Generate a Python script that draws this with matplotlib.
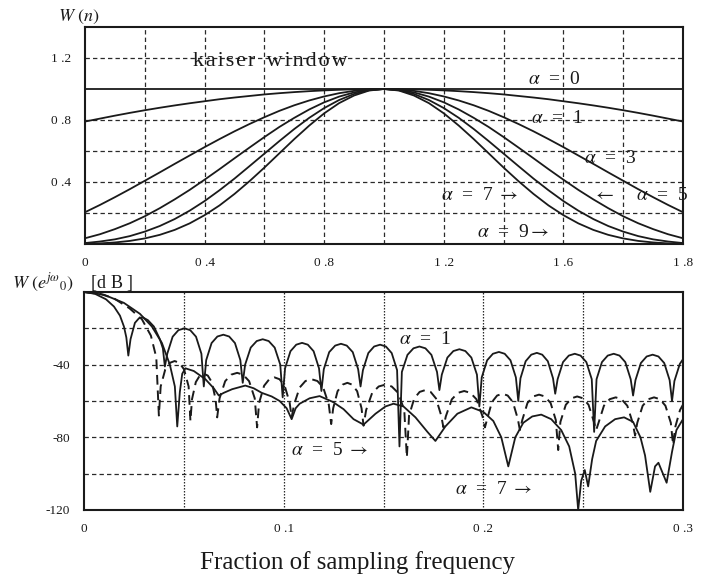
import matplotlib
matplotlib.use("Agg")
import matplotlib.pyplot as plt
import numpy as np

plt.rcParams['font.family'] = ['Liberation Serif', 'DejaVu Serif']
plt.rcParams['mathtext.fontset'] = 'stix'

# ---------------- top panel: Kaiser window W(n) ----------------
n_pos = np.linspace(0.0, 2.0, 41)
w_a0_half = [1.0] * 21
w_a1_half = [0.790, 0.809, 0.828, 0.846, 0.863, 0.879, 0.894, 0.908, 0.921, 0.934, 0.945,
             0.955, 0.965, 0.973, 0.980, 0.986, 0.991, 0.995, 0.998, 0.9995, 1.0]
w_a3_half = [0.205, 0.252, 0.302, 0.354, 0.408, 0.462, 0.517, 0.571, 0.625, 0.677, 0.727,
             0.774, 0.818, 0.859, 0.895, 0.926, 0.952, 0.973, 0.988, 0.997, 1.0]
w_a5_half = [0.037, 0.063, 0.096, 0.134, 0.179, 0.231, 0.288, 0.349, 0.415, 0.483, 0.553,
             0.622, 0.690, 0.755, 0.814, 0.868, 0.914, 0.951, 0.978, 0.994, 1.0]
w_a7_half = [0.006, 0.016, 0.030, 0.051, 0.080, 0.116, 0.161, 0.215, 0.277, 0.347, 0.422,
             0.502, 0.583, 0.664, 0.742, 0.814, 0.877, 0.929, 0.968, 0.992, 1.0]
w_a9_half = [0.001, 0.004, 0.010, 0.020, 0.036, 0.059, 0.091, 0.133, 0.186, 0.249, 0.323,
             0.405, 0.493, 0.585, 0.677, 0.764, 0.843, 0.909, 0.958, 0.990, 1.0]

top_xticks = [0.0, 0.4, 0.8, 1.2, 1.6, 2.0]
top_xlabels = ['0', '0 .4', '0 .8', '1 .2', '1 .6', '1 .8']
top_yticks = [0.4, 0.8, 1.2]
top_ylabels = ['0 .4', '0 .8', '1 .2']

# ---------------- bottom panel: spectra in dB ----------------
f_a1 = [0.0, 0.0055, 0.0110, 0.0150, 0.0180, 0.0200, 0.0212,
        0.0222, 0.0233, 0.0255, 0.0275, 0.0295, 0.0320, 0.0350, 0.0380, 0.0395,
        0.0405, 0.0417, 0.0444, 0.0473, 0.0503, 0.0532, 0.0561, 0.0588,
        0.0600, 0.0612, 0.0639, 0.0668, 0.0698, 0.0727, 0.0756, 0.0783,
        0.0795, 0.0807, 0.0835, 0.0865, 0.0895, 0.0925, 0.0955, 0.0983,
        0.0995, 0.1007, 0.1034, 0.1063, 0.1092, 0.1121, 0.1150, 0.1177,
        0.1189, 0.1201, 0.1228, 0.1258, 0.1287, 0.1316, 0.1346, 0.1373,
        0.1385, 0.1397, 0.1424, 0.1453, 0.1483, 0.1512, 0.1541, 0.1568,
        0.1580, 0.1592, 0.1620, 0.1650, 0.1680, 0.1710, 0.1740, 0.1768,
        0.1780, 0.1792, 0.1820, 0.1850, 0.1880, 0.1910, 0.1940, 0.1968,
        0.1980, 0.1992, 0.2019, 0.2048, 0.2078, 0.2107, 0.2136, 0.2163,
        0.2175, 0.2186, 0.2212, 0.2240, 0.2268, 0.2295, 0.2323, 0.2349,
        0.2360, 0.2372, 0.2399, 0.2428, 0.2458, 0.2487, 0.2516, 0.2543,
        0.2555, 0.2567, 0.2594, 0.2623, 0.2653, 0.2682, 0.2711, 0.2738,
        0.2750, 0.2762, 0.2789, 0.2818, 0.2848, 0.2877, 0.2906, 0.2933,
        0.2945, 0.2957, 0.2984, 0.3000]
db_a1 = [0.0, -1.0, -4.0, -8.0, -13.0, -19.0, -25.0,
         -35.0, -26.0, -17.0, -14.5, -14.0, -15.5, -19.0, -26.0, -31.0,
         -41.0, -34.0, -24.6, -21.0, -20.0, -21.0, -24.6, -34.0,
         -52.0, -37.5, -28.1, -24.5, -23.5, -24.5, -28.1, -37.5,
         -50.0, -40.0, -30.6, -27.0, -26.0, -27.0, -30.6, -40.0,
         -58.0, -42.0, -32.6, -29.0, -28.0, -29.0, -32.6, -42.0,
         -54.5, -42.5, -33.1, -29.5, -28.5, -29.5, -33.1, -42.5,
         -52.0, -43.0, -33.6, -30.0, -29.0, -30.0, -33.6, -43.0,
         -85.0, -44.0, -34.6, -31.0, -30.0, -31.0, -34.6, -44.0,
         -54.0, -45.5, -36.1, -32.5, -31.5, -32.5, -36.1, -45.5,
         -63.0, -47.0, -37.6, -34.0, -33.0, -34.0, -37.6, -47.0,
         -60.0, -47.5, -38.1, -34.5, -33.5, -34.5, -38.1, -47.5,
         -56.0, -48.0, -38.6, -35.0, -34.0, -35.0, -38.6, -48.0,
         -77.0, -48.0, -38.6, -35.0, -34.0, -35.0, -38.6, -48.0,
         -57.0, -48.5, -39.1, -35.5, -34.5, -35.5, -39.1, -48.5,
         -60.0, -49.0, -39.6, -37.0]

f_a5 = [0.0, 0.0080, 0.0150, 0.0228, 0.0290, 0.0335, 0.0362,
        0.0375, 0.0384, 0.0407, 0.0430, 0.0454, 0.0478, 0.0501, 0.0524,
        0.0533, 0.0541, 0.0560, 0.0580, 0.0600, 0.0620, 0.0640, 0.0659,
        0.0667, 0.0679, 0.0707, 0.0737, 0.0767, 0.0797, 0.0827, 0.0855,
        0.0867, 0.0877, 0.0902, 0.0928, 0.0954, 0.0979, 0.1005, 0.1030,
        0.1040, 0.1052, 0.1080, 0.1109, 0.1139, 0.1169, 0.1198, 0.1226,
        0.1238, 0.1248, 0.1270, 0.1295, 0.1319, 0.1343, 0.1368, 0.1390,
        0.1400, 0.1413, 0.1443, 0.1476, 0.1509, 0.1541, 0.1574, 0.1604,
        0.1617, 0.1628, 0.1654, 0.1681, 0.1709, 0.1736, 0.1763, 0.1789,
        0.1800, 0.1812, 0.1842, 0.1873, 0.1904, 0.1935, 0.1966, 0.1996,
        0.2008, 0.2019, 0.2043, 0.2069, 0.2096, 0.2122, 0.2148, 0.2173,
        0.2183, 0.2195, 0.2221, 0.2250, 0.2279, 0.2308, 0.2337, 0.2363,
        0.2375, 0.2386, 0.2413, 0.2442, 0.2470, 0.2499, 0.2527, 0.2554,
        0.2565, 0.2577, 0.2604, 0.2633, 0.2663, 0.2692, 0.2721, 0.2748,
        0.2760, 0.2771, 0.2798, 0.2827, 0.2855, 0.2884, 0.2912, 0.2939,
        0.2950, 0.2962, 0.2985, 0.3000]
db_a5 = [0.0, -1.0, -3.5, -9.0, -15.0, -24.0, -36.0,
         -68.0, -52.0, -42.6, -39.0, -38.0, -39.0, -42.6, -52.0,
         -71.0, -59.0, -49.6, -46.0, -45.0, -46.0, -49.6, -59.0,
         -69.0, -58.5, -49.1, -45.5, -44.5, -45.5, -49.1, -58.5,
         -74.5, -61.0, -51.6, -48.0, -47.0, -48.0, -51.6, -61.0,
         -69.0, -62.0, -52.6, -49.0, -48.0, -49.0, -52.6, -62.0,
         -72.7, -64.0, -54.6, -51.0, -50.0, -51.0, -54.6, -64.0,
         -73.6, -65.0, -55.6, -52.0, -51.0, -52.0, -55.6, -65.0,
         -91.0, -68.0, -58.6, -55.0, -54.0, -55.0, -58.6, -68.0,
         -74.5, -68.5, -59.1, -55.5, -54.5, -55.5, -59.1, -68.5,
         -74.5, -70.0, -60.6, -57.0, -56.0, -57.0, -60.6, -70.0,
         -76.0, -70.5, -61.1, -57.5, -56.5, -57.5, -61.1, -70.5,
         -87.0, -71.5, -62.1, -58.5, -57.5, -58.5, -62.1, -71.5,
         -76.0, -72.0, -62.6, -59.0, -58.0, -59.0, -62.6, -72.0,
         -79.0, -72.0, -62.6, -59.0, -58.0, -59.0, -62.6, -72.0,
         -84.0, -74.0, -65.0, -62.0]

f_a7 = [0.0, 0.010, 0.020, 0.028, 0.034, 0.039, 0.043, 0.0455, 0.0467,
        0.0480, 0.0492, 0.0508, 0.0550, 0.0608, 0.0650, 0.0675, 0.0700,
        0.0742, 0.0808, 0.0850, 0.0890, 0.0940, 0.0980, 0.1015, 0.1040,
        0.1060, 0.1080, 0.1130, 0.1180, 0.1246, 0.1300, 0.1350, 0.1400,
        0.1460, 0.1510, 0.1550, 0.1600, 0.1660, 0.1720, 0.1760, 0.1810,
        0.1870, 0.1940, 0.2000, 0.2050, 0.2090, 0.2125, 0.2160, 0.2200,
        0.2245, 0.2290, 0.2340, 0.2390, 0.2430, 0.2460, 0.2475, 0.2490,
        0.2508, 0.2525, 0.2545, 0.2565, 0.2610, 0.2660, 0.2705, 0.2750,
        0.2787, 0.2810, 0.2836, 0.2860, 0.2877, 0.2918, 0.2945, 0.2967, 0.3000]
db_a7 = [0.0, -1.5, -6.0, -12.0, -19.0, -28.0, -40.0, -52.0, -74.0,
         -55.0, -45.0, -42.0, -43.5, -48.0, -53.0, -57.0, -55.5,
         -53.5, -51.5, -53.0, -55.5, -57.5, -60.0, -64.0, -70.0,
         -64.0, -61.5, -58.5, -57.3, -60.5, -64.5, -70.0, -73.0,
         -67.0, -63.0, -61.5, -63.0, -69.0, -77.0, -82.0, -74.0,
         -67.0, -63.5, -66.0, -71.0, -80.0, -96.0, -80.0, -72.0,
         -68.5, -67.5, -70.0, -76.0, -85.0, -100.0, -120.0, -104.0,
         -98.0, -107.0, -92.0, -82.0, -74.0, -70.0, -69.0, -71.5,
         -80.0, -90.0, -110.0, -96.0, -94.0, -105.0, -88.0, -76.0, -70.0]

bot_xticks = [0.0, 0.1, 0.2, 0.3]
bot_xlabels = ['0', '0 .1', '0 .2', '0 .3']
bot_yticks = [-40, -80, -120]
bot_ylabels = ['-40', '-80', '-120']

# ---------------- figure ----------------
W, H = 702, 588
fig = plt.figure(figsize=(W / 100, H / 100), dpi=100)
fig.patch.set_facecolor('white')

ax1 = fig.add_axes([85 / W, 1 - 244 / H, 598 / W, 217 / H])
ax2 = fig.add_axes([84 / W, 1 - 510 / H, 599 / W, 218 / H])

ink = '#1a1a1a'
grid_kw = dict(color='#2a2a2a', lw=0.9, zorder=1)

# top panel
for xg in np.arange(0.2, 2.0, 0.2):
    ax1.axvline(xg, linestyle=(0, (3.5, 2.5)), **grid_kw)
for yg in [0.2, 0.4, 0.6, 0.8, 1.2]:
    ax1.axhline(yg, linestyle=(0, (3.5, 2.5)), **grid_kw)

for half in [w_a0_half, w_a1_half, w_a3_half, w_a5_half, w_a7_half, w_a9_half]:
    full = half + half[-2::-1]
    ax1.plot(n_pos, full, color=ink, lw=1.3, zorder=3)

ax1.set_xlim(0, 2.0)
ax1.set_ylim(0, 1.4)
ax1.set_xticks(top_xticks)
ax1.set_xticklabels(top_xlabels)
ax1.set_yticks(top_yticks)
ax1.set_yticklabels(top_ylabels)

hs = '\u200a'
ax1.text(0.36, 1.175, hs.join('kaiser') + '  ' + hs.join('window'), fontsize=16,
         va='center', ha='left', color=ink, zorder=4,
         bbox=dict(facecolor='none', edgecolor='none', pad=0))
lab_kw = dict(fontsize=14, va='center', ha='left', color=ink, zorder=4)
ax1.text(1.48, 1.06, r'$\alpha$  =  0', **lab_kw)
ax1.text(1.49, 0.81, r'$\alpha$  =  1', **lab_kw)
ax1.text(1.67, 0.55, r'$\alpha$  =  3', **lab_kw)
ax1.text(1.19, 0.316, r'$\alpha$  =  7 $\rightarrow$', **lab_kw)
ax1.text(1.70, 0.316, r'$\leftarrow$    $\alpha$  =  5', clip_on=False, **lab_kw)
ax1.text(1.31, 0.077, r'$\alpha$  =  9$\rightarrow$', **lab_kw)

# bottom panel
for xg in [0.05, 0.1, 0.15, 0.2, 0.25]:
    ax2.axvline(xg, linestyle=(0, (1.2, 1.2)), **grid_kw)
for yg in [-20, -40, -60, -80, -100]:
    ax2.axhline(yg, linestyle=(0, (3.5, 2.5)), **grid_kw)

ax2.plot(f_a1, db_a1, color=ink, lw=1.3, zorder=3)
ax2.plot(f_a5, db_a5, color=ink, lw=1.4, linestyle=(0, (5, 3)), zorder=3)
ax2.plot(f_a7, db_a7, color=ink, lw=1.3, zorder=3)

ax2.set_xlim(0, 0.3)
ax2.set_ylim(-120, 0)
ax2.set_xticks(bot_xticks)
ax2.set_xticklabels(bot_xlabels)
ax2.set_yticks(bot_yticks)
ax2.set_yticklabels(bot_ylabels)

ax2.text(0.158, -26, r'$\alpha$  =  1', **lab_kw)
ax2.text(0.1035, -87.5, r'$\alpha$  =  5 $\rightarrow$', **lab_kw)
ax2.text(0.186, -108.5, r'$\alpha$  =  7 $\rightarrow$', **lab_kw)

for ax in (ax1, ax2):
    for s in ax.spines.values():
        s.set_linewidth(1.5)
        s.set_color(ink)
    ax.tick_params(length=0, labelsize=9.5, colors=ink)
    ax.tick_params(axis='x', pad=9)
    ax.tick_params(axis='y', pad=10)

fig.text(58 / W, 1 - 17 / H, r'$W\ (n)$', fontsize=13, va='center', ha='left', color=ink)
fig.text(12 / W, 1 - 283 / H, r'$W\ (e^{j\omega}{}_{0})$    [d B ]', fontsize=13,
         va='center', ha='left', color=ink)
fig.text(358 / W, 1 - 563 / H, 'Fraction of sampling frequency', fontsize=18,
         va='center', ha='center', color=ink)

fig.savefig('out.png', dpi=100)
